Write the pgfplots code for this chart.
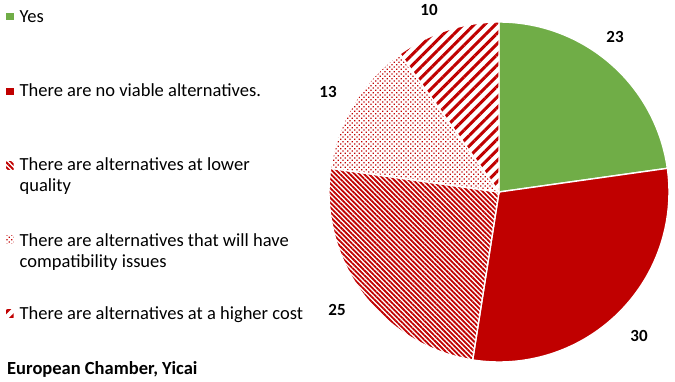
\documentclass[border=0pt]{standalone}
\usepackage{fontspec}
\setmainfont{Carlito}
\usepackage{pgfplots}
\pgfplotsset{compat=1.18}
\usepackage{pgfplotstable}
\usetikzlibrary{patterns.meta}
\definecolor{cgreen}{HTML}{70AD47}
\definecolor{cred}{HTML}{C00000}

\pgfplotstableread{
label value
Yes 23
NoViable 30
LowerQuality 25
Compat 13
HigherCost 10
}\piedata

\pgfplotstablegetelem{0}{value}\of\piedata \let\va\pgfplotsretval
\pgfplotstablegetelem{1}{value}\of\piedata \let\vb\pgfplotsretval
\pgfplotstablegetelem{2}{value}\of\piedata \let\vc\pgfplotsretval
\pgfplotstablegetelem{3}{value}\of\piedata \let\vd\pgfplotsretval
\pgfplotstablegetelem{4}{value}\of\piedata \let\ve\pgfplotsretval
\pgfmathsetmacro\tot{\va+\vb+\vc+\vd+\ve}
\pgfmathsetmacro\aA{90}
\pgfmathsetmacro\aB{\aA-\va*360/\tot}
\pgfmathsetmacro\aC{\aB-\vb*360/\tot}
\pgfmathsetmacro\aD{\aC-\vc*360/\tot}
\pgfmathsetmacro\aE{\aD-\vd*360/\tot}
\pgfmathsetmacro\aF{\aE-\ve*360/\tot}

\def\cx{499}\def\cy{190}\def\rr{170}
\newcommand\slice[3]{%
  \addplot[#3, draw=white, line width=1.4bp, domain=#2:#1, samples=90, variable=\t]
    ({\cx+\rr*cos(\t)},{\cy+\rr*sin(\t)}) -- (axis cs:\cx,\cy) -- cycle;}

\tikzset{
  patLQ/.style={pattern={Lines[angle=-45,distance=3.4bp,line width=1.8bp]}, pattern color=cred},
  patCI/.style={pattern={Dots[angle=45,distance=3.3bp,radius=0.9bp]}, pattern color=cred},
  patHC/.style={pattern={Lines[angle=45,distance=7.5bp,line width=3bp]}, pattern color=cred},
}

\begin{document}
\begin{tikzpicture}
\path[use as bounding box] (0,0) rectangle (675bp,382bp);
\begin{axis}[
  at={(0,0)}, anchor=origin,
  x=1bp, y=1bp, xmin=0, xmax=675, ymin=0, ymax=382,
  scale only axis, hide axis, clip=false,
]
\slice{\aA}{\aB}{fill=cgreen}
\slice{\aB}{\aC}{fill=cred}
\slice{\aC}{\aD}{patLQ}
\slice{\aD}{\aE}{patCI}
\slice{\aE}{\aF}{patHC}

% data labels
\begin{scope}[every node/.style={font=\fontsize{17bp}{19bp}\selectfont\bfseries, inner sep=0pt}]
\node at (axis cs:615,345) {\va};
\node at (axis cs:639,46) {\vb};
\node at (axis cs:337,72) {\vc};
\node at (axis cs:328,290) {\vd};
\node at (axis cs:429,372) {\ve};
\end{scope}

% legend
\begin{scope}[every node/.style={font=\fontsize{18.5bp}{21bp}\selectfont, inner sep=0pt, anchor=base west, align=left}]
\fill[cgreen] (axis cs:6,361.5) rectangle (axis cs:13.5,369);
\node at (axis cs:19.5,359.5) {Yes};
\fill[cred] (axis cs:6,286.5) rectangle (axis cs:13.5,294);
\node at (axis cs:19.5,285) {There are no viable alternatives.};
\fill[patLQ] (axis cs:6,212.5) rectangle (axis cs:13.5,220);
\node at (axis cs:19.5,190) {There are alternatives at lower\\quality};
\fill[patCI] (axis cs:6,138.5) rectangle (axis cs:13.5,146);
\node at (axis cs:19.5,114.5) {There are alternatives that will have\\compatibility issues};
\fill[patHC] (axis cs:6,64.5) rectangle (axis cs:13.5,72);
\node at (axis cs:19.5,62) {There are alternatives at a higher cost};
\node[font=\fontsize{18.5bp}{20bp}\selectfont\bfseries] at (axis cs:7,7.5) {European Chamber, Yicai};
\end{scope}
\end{axis}
\end{tikzpicture}
\end{document}
